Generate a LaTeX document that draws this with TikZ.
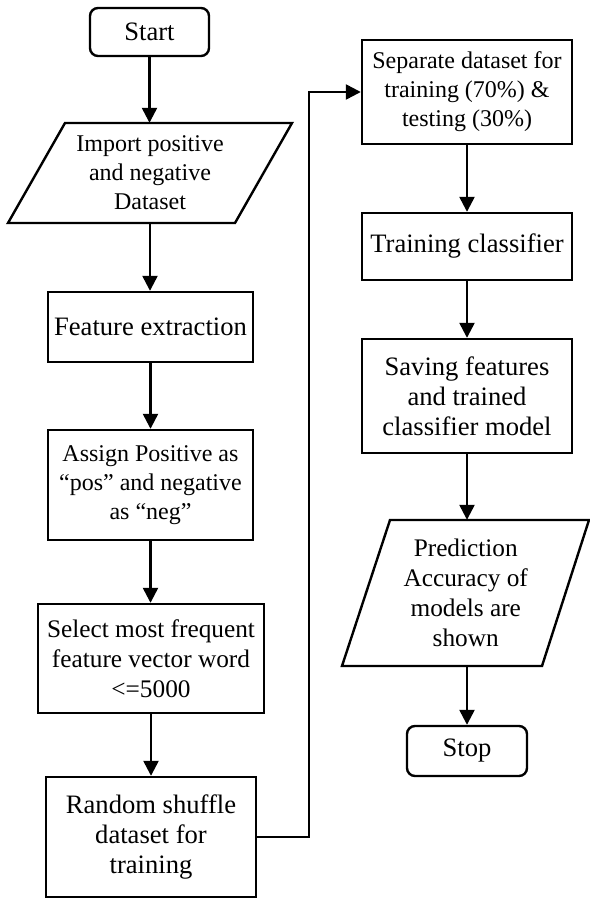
\documentclass[tikz,border=0pt]{standalone}
\usepackage{fontspec}
\setmainfont{Liberation Serif}
\usetikzlibrary{arrows.meta,calc}
\begin{document}
\begin{tikzpicture}[x=1pt,y=-1pt,
  every node/.style={inner sep=0pt, align=center, font=\fontsize{24}{29}\selectfont},
  bigtext/.style={font=\fontsize{26.6}{30}\selectfont},
  medtext/.style={font=\fontsize{25.3}{30}\selectfont},
  procbox/.style={draw, line width=2.4pt, minimum width=210pt},
  termbox/.style={draw, line width=2.4pt, rounded corners=8pt, minimum width=120pt, minimum height=50pt, bigtext},
  iobox/.style={minimum height=#1},
  ioline/.style={line width=2.4pt, line join=miter},
  flow/.style={line width=2.4pt, -{Triangle[length=15pt,width=15pt]}}
]
\useasboundingbox (0,0) rectangle (589,899);

% left column
\node[termbox, minimum width=119pt, minimum height=48pt] (start) at (149.5,32) {Start};
\node[iobox=100pt, minimum width=227pt] (imp) at (150,173) {Import positive\\and negative\\Dataset};
\draw[ioline] (65,123) -- (292,123) -- (235,223) -- (8,223) -- cycle;
\node[procbox, bigtext, minimum width=205pt, minimum height=70pt] (feat) at (150.5,327) {Feature extraction};
\node[procbox, minimum width=205pt, minimum height=110pt] (assign) at (150.5,485) {Assign Positive as\\``pos'' and negative\\as ``neg''};
\node[procbox, medtext, minimum width=226pt, minimum height=109pt] (select) at (151,658.5) {Select most frequent\\feature vector word\\<=5000};
\node[procbox, bigtext, minimum width=210pt, minimum height=120pt] (random) at (151,837) {Random shuffle\\dataset for\\training};

% right column
\node[procbox, minimum height=104pt] (sep) at (467,92) {Separate dataset for\\training (70\%) \&\\testing (30\%)};
\node[procbox, bigtext, minimum height=67pt] (train) at (467,246.5) {Training classifier};
\node[procbox, bigtext, minimum height=114pt] (save) at (467,396) {Saving features\\and trained\\classifier model};
\node[iobox=146pt, medtext, minimum width=199pt] (pred) at (465.75,593) {Prediction\\Accuracy of\\models are\\shown};
\draw[ioline] (390,520) -- (589,520) -- (542,666) -- (342,666) -- cycle;
\node[termbox] (stop) at (467,751) {Stop};

% connectors
\draw[flow] (start.south) -- (start.south |- imp.north);
\draw[flow] (imp.south) -- (imp.south |- feat.north);
\draw[flow] (feat.south) -- (feat.south |- assign.north);
\draw[flow] (assign.south) -- (assign.south |- select.north);
\draw[flow] (select.south) -- (select.south |- random.north);
\coordinate (bend) at (309,837);
\draw[flow] (random.east) -- (bend) |- (sep.west);
\draw[flow] (sep.south) -- (sep.south |- train.north);
\draw[flow] (train.south) -- (train.south |- save.north);
\draw[flow] (save.south) -- (save.south |- pred.north);
\draw[flow] (save.south |- pred.south) -- (save.south |- stop.north);
\end{tikzpicture}
\end{document}
